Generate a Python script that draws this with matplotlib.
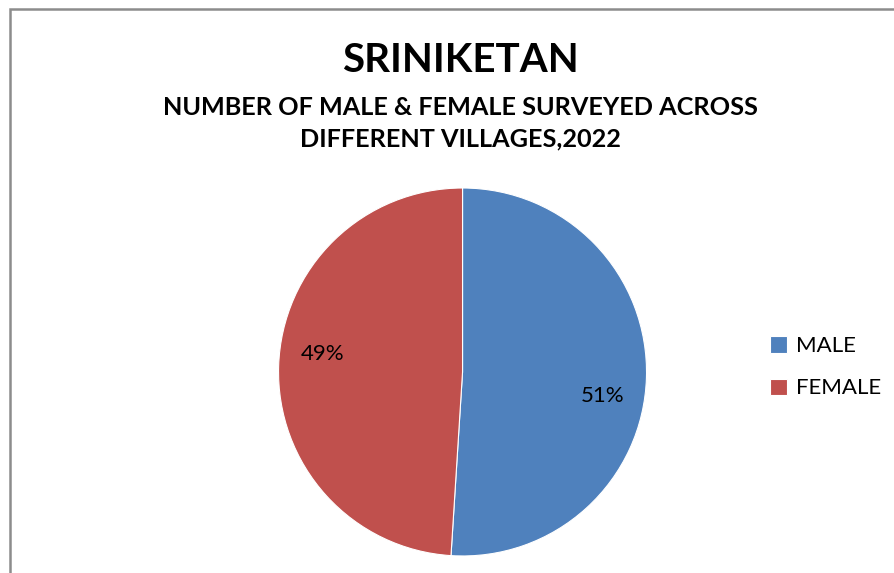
import matplotlib.pyplot as plt
from matplotlib.patches import Rectangle

labels = ['MALE', 'FEMALE']
shares = [51, 49]
colors = ['#4F81BD', '#C0504D']

plt.rcParams['font.family'] = ['Lato', 'DejaVu Sans']

fig = plt.figure(figsize=(8.95, 5.73), dpi=100)

# chart border (only top and left edges are visible in the crop)
fig.patches.append(Rectangle((10 / 895, -0.1), 1.2, (573 - 9) / 573 + 0.1,
                             transform=fig.transFigure, fill=False,
                             edgecolor='#8c8c8c', linewidth=1.8))

ax = fig.add_axes([0.3112, 0.0297, 0.4112, 0.6422])
wedges, texts, autotexts = ax.pie(
    shares, colors=colors, startangle=90, counterclock=False,
    autopct='%1.0f%%', pctdistance=0.77,
    wedgeprops=dict(edgecolor='white', linewidth=0.8),
    textprops=dict(fontsize=16, color='black'))
ax.set_xlim(-1, 1)
ax.set_ylim(-1, 1)
ax.set_aspect('equal')

# Excel "best fit" label spots
autotexts[0].set_position((0.76, -0.13))
autotexts[1].set_position((-0.76, 0.10))

fig.text(0.514, 0.895, 'SRINIKETAN', ha='center', va='center',
         fontsize=29, fontweight='bold')
fig.text(0.514, 0.785, 'NUMBER OF MALE & FEMALE SURVEYED ACROSS\nDIFFERENT VILLAGES,2022',
         ha='center', va='center', fontsize=18.2, fontweight='bold', linespacing=1.45)

fig.legend(wedges, labels, loc='center left', bbox_to_anchor=(0.838, 0.359),
           frameon=False, fontsize=16, handlelength=0.75, handleheight=0.75,
           handletextpad=0.4, labelspacing=1.0)

fig.savefig('out.png', dpi=100)
